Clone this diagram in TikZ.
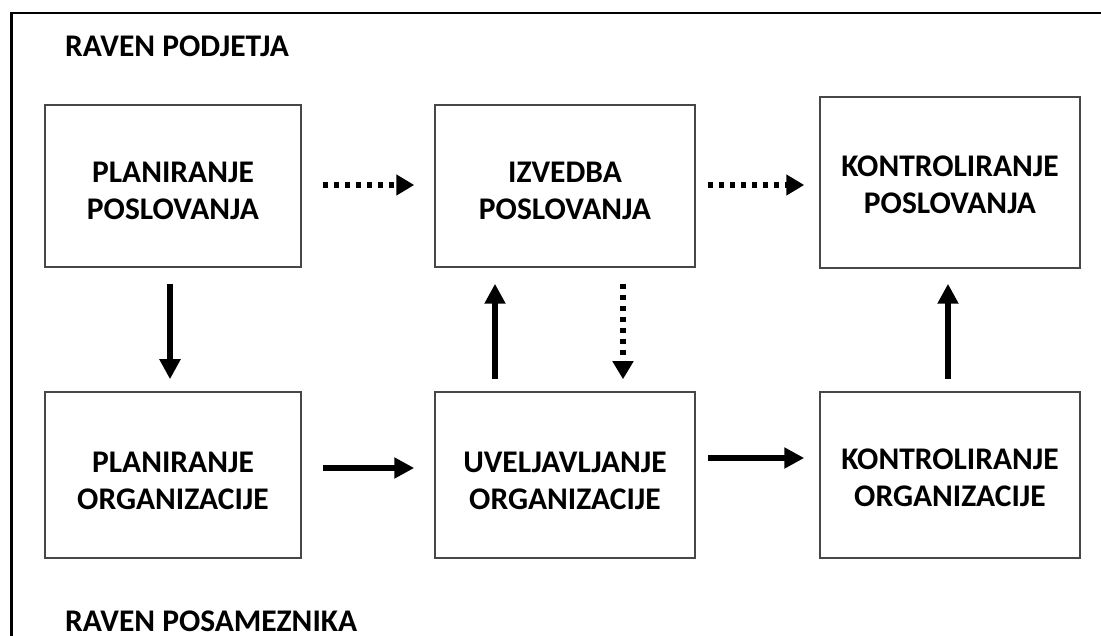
\documentclass[tikz,border=0pt]{standalone}
\usepackage{fontspec}
\setmainfont{Carlito}
\usetikzlibrary{arrows.meta,calc}
\begin{document}
\begin{tikzpicture}[x=1pt,y=-1pt,
  box/.style={draw=black!72,line width=1.5pt,rectangle,inner sep=0pt,fill=white},
  lbl/.style={font=\fontsize{31.5}{37}\selectfont\bfseries,align=center,inner sep=0pt},
  hdr/.style={font=\fontsize{31.5}{37}\selectfont\bfseries,inner sep=0pt,anchor=base west},
  solidarrow/.style={line width=5.5pt,-{Triangle[length=20pt,width=20pt]}},
  dotarrow/.style={line width=5.5pt,dash pattern=on 5.5pt off 5.5pt,-{Triangle[length=18pt,width=20pt]}}]
\useasboundingbox (0,0) rectangle (1101,636);
% outer frame (top and left only)
\draw[line width=2.5pt] (11.5,636) -- (11.5,13) -- (1101,13);
% headings
\node[hdr] (h1) at (65,57) {RAVEN PODJETJA};
\node[hdr] (h2) at (65,631) {RAVEN POSAMEZNIKA};
% boxes
\node[box,minimum width=256pt,minimum height=162pt] (b1) at (173,186) {};
\node[box,minimum width=260pt,minimum height=162pt] (b2) at (565,186) {};
\node[box,minimum width=260pt,minimum height=171pt] (b3) at (950,182.5) {};
\node[box,minimum width=256pt,minimum height=166pt] (b4) at (173,475) {};
\node[box,minimum width=260pt,minimum height=166pt] (b5) at (565,475) {};
\node[box,minimum width=260pt,minimum height=166pt] (b6) at (950,475) {};
% texts
\node[lbl] (t1) at ($(b1.center)+(0,5)$) {PLANIRANJE\\POSLOVANJA};
\node[lbl] (t2) at ($(b2.center)+(0,5)$) {IZVEDBA\\POSLOVANJA};
\node[lbl] (t3) at ($(b3.center)+(0,2)$) {KONTROLIRANJE\\POSLOVANJA};
\node[lbl] (t4) at ($(b4.center)+(0,5.5)$) {PLANIRANJE\\ORGANIZACIJE};
\node[lbl] (t5) at ($(b5.center)+(0,5.5)$) {UVELJAVLJANJE\\ORGANIZACIJE};
\node[lbl] (t6) at ($(b6.center)+(0,2.5)$) {KONTROLIRANJE\\ORGANIZACIJE};
% connectors
\draw[dotarrow] ($(b1.east)+(21,-1)$) -- ($(b2.west)+(-20,-1)$);
\draw[dotarrow] ($(b2.east)+(12,-1)$) -- ($(b3.west)+(-15,2.5)$);
\draw[solidarrow] ($(b1.south)+(-3,16)$) -- ($(b4.north)+(-3,-12)$);
\draw[solidarrow] ($(b5.north)+(-70,-12)$) -- ($(b2.south)+(-70,16)$);
\draw[dotarrow] ($(b2.south)+(58,16)$) -- ($(b5.north)+(58,-12)$);
\draw[solidarrow] ($(b6.north)+(-2,-12)$) -- ($(b3.south)+(-2,15)$);
\draw[solidarrow] ($(b4.east)+(21,-7)$) -- ($(b5.west)+(-20,-7)$);
\draw[solidarrow] ($(b5.east)+(12,-17)$) -- ($(b6.west)+(-15,-17)$);
\end{tikzpicture}
\end{document}
